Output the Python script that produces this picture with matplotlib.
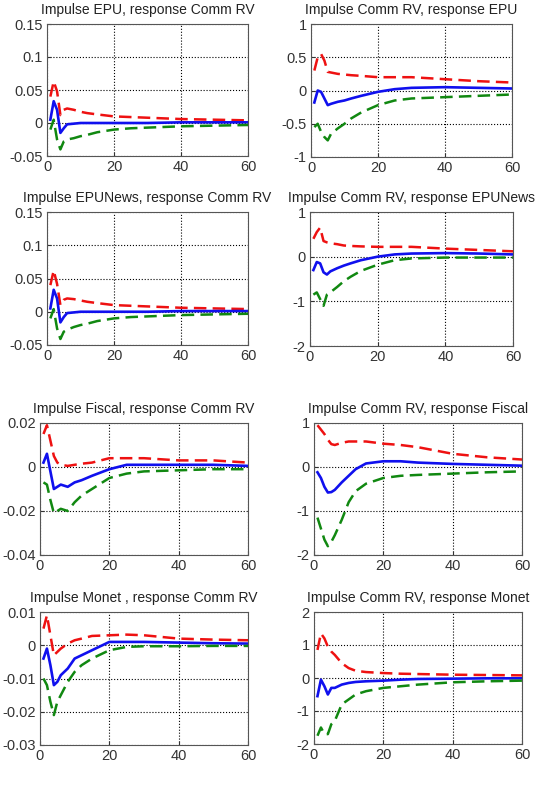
import numpy as np
import matplotlib
matplotlib.use('Agg')
import matplotlib.pyplot as plt
from matplotlib.ticker import FuncFormatter

plt.rcParams['font.family'] = ['Liberation Sans', 'DejaVu Sans']
plt.rcParams['axes.unicode_minus'] = False

h = [1, 2, 3, 4, 5, 6, 8, 10, 12, 15, 20, 25, 30, 40, 50, 60]

titles = ['Impulse EPU, response Comm RV', 'Impulse Comm RV, response EPU',
          'Impulse EPUNews, response Comm RV', 'Impulse Comm RV, response EPUNews',
          'Impulse Fiscal, response Comm RV', 'Impulse Comm RV, response Fiscal',
          'Impulse Monet , response Comm RV', 'Impulse Comm RV, response Monet']

# upper band (red), point estimate (blue), lower band (green)
up1 = [0.040, 0.063, 0.048, 0.012, 0.020, 0.022, 0.020, 0.017, 0.015, 0.013, 0.010, 0.009, 0.008, 0.006, 0.005, 0.004]
md1 = [0.005, 0.033, 0.020, -0.015, -0.008, -0.002, -0.001, 0.000, 0.000, 0.000, 0.000, 0.000, 0.000, 0.001, 0.001, 0.001]
lo1 = [-0.010, 0.005, -0.025, -0.040, -0.028, -0.025, -0.023, -0.020, -0.018, -0.014, -0.010, -0.008, -0.007, -0.005, -0.004, -0.003]

up2 = [0.30, 0.50, 0.55, 0.45, 0.28, 0.27, 0.25, 0.24, 0.23, 0.22, 0.20, 0.20, 0.20, 0.17, 0.14, 0.12]
md2 = [-0.18, 0.00, -0.02, -0.12, -0.22, -0.20, -0.17, -0.15, -0.12, -0.08, -0.02, 0.02, 0.04, 0.05, 0.04, 0.03]
lo2 = [-0.55, -0.50, -0.62, -0.70, -0.75, -0.65, -0.57, -0.50, -0.42, -0.33, -0.22, -0.15, -0.12, -0.10, -0.08, -0.06]

up3 = [0.040, 0.062, 0.042, 0.010, 0.018, 0.020, 0.019, 0.017, 0.015, 0.013, 0.010, 0.009, 0.008, 0.006, 0.005, 0.004]
md3 = [0.005, 0.033, 0.020, -0.016, -0.008, -0.002, -0.001, 0.000, 0.000, 0.000, 0.000, 0.000, 0.000, 0.001, 0.001, 0.001]
lo3 = [-0.010, 0.004, -0.025, -0.041, -0.030, -0.027, -0.023, -0.020, -0.018, -0.014, -0.010, -0.008, -0.007, -0.005, -0.004, -0.003]

up4 = [0.40, 0.55, 0.65, 0.35, 0.32, 0.30, 0.28, 0.25, 0.24, 0.23, 0.22, 0.22, 0.22, 0.18, 0.15, 0.12]
md4 = [-0.30, -0.12, -0.15, -0.35, -0.40, -0.33, -0.26, -0.20, -0.15, -0.08, 0.00, 0.05, 0.07, 0.08, 0.07, 0.05]
lo4 = [-0.85, -0.80, -0.95, -1.10, -0.85, -0.80, -0.68, -0.55, -0.45, -0.32, -0.18, -0.08, -0.04, -0.02, -0.02, -0.02]

up5 = [0.015, 0.019, 0.012, 0.005, 0.002, 0.001, 0.0005, 0.001, 0.0015, 0.002, 0.004, 0.004, 0.004, 0.003, 0.003, 0.002]
md5 = [0.002, 0.006, -0.002, -0.010, -0.009, -0.008, -0.009, -0.007, -0.006, -0.004, -0.001, 0.001, 0.001, 0.001, 0.001, 0.0005]
lo5 = [-0.007, -0.008, -0.015, -0.021, -0.020, -0.019, -0.020, -0.016, -0.013, -0.010, -0.005, -0.003, -0.002, -0.0015, -0.001, -0.001]

up6 = [0.95, 0.85, 0.75, 0.62, 0.52, 0.50, 0.55, 0.58, 0.58, 0.58, 0.53, 0.50, 0.45, 0.30, 0.22, 0.17]
md6 = [-0.12, -0.25, -0.45, -0.58, -0.57, -0.52, -0.35, -0.20, -0.05, 0.08, 0.13, 0.13, 0.10, 0.07, 0.05, 0.03]
lo6 = [-1.15, -1.40, -1.65, -1.80, -1.70, -1.55, -1.20, -0.80, -0.55, -0.38, -0.25, -0.20, -0.18, -0.15, -0.12, -0.10]

up7 = [0.005, 0.009, 0.003, -0.003, -0.002, -0.001, 0.0005, 0.0015, 0.002, 0.0028, 0.003, 0.0032, 0.003, 0.002, 0.0017, 0.0015]
md7 = [-0.004, -0.001, -0.006, -0.012, -0.011, -0.009, -0.007, -0.004, -0.003, -0.0015, 0.001, 0.001, 0.001, 0.0008, 0.0006, 0.0005]
lo7 = [-0.010, -0.012, -0.017, -0.021, -0.017, -0.015, -0.011, -0.008, -0.006, -0.004, -0.0015, -0.0005, -0.0003, -0.0003, -0.0002, -0.0002]

up8 = [0.85, 1.35, 1.20, 0.95, 0.80, 0.70, 0.45, 0.30, 0.22, 0.18, 0.15, 0.13, 0.12, 0.10, 0.09, 0.08]
md8 = [-0.55, -0.05, -0.25, -0.50, -0.30, -0.30, -0.20, -0.15, -0.12, -0.10, -0.08, -0.05, -0.03, -0.02, -0.01, -0.01]
lo8 = [-1.75, -1.50, -1.70, -1.70, -1.40, -1.30, -0.80, -0.65, -0.50, -0.40, -0.30, -0.25, -0.20, -0.13, -0.10, -0.08]

uppers = [up1, up2, up3, up4, up5, up6, up7, up8]
mids = [md1, md2, md3, md4, md5, md6, md7, md8]
lowers = [lo1, lo2, lo3, lo4, lo5, lo6, lo7, lo8]

ylims = [(-0.05, 0.15), (-1, 1), (-0.05, 0.15), (-2, 1),
         (-0.04, 0.02), (-2, 1), (-0.03, 0.01), (-2, 2)]
ysteps = [0.05, 0.5, 0.05, 1, 0.02, 1, 0.01, 1]

# axes boxes in pixels: left, top, right, bottom
boxes = [(47, 24, 248, 156), (311, 24, 512, 157),
         (47, 212, 248, 345), (310, 212, 513, 346),
         (40, 423, 248, 555), (314, 423, 522, 555),
         (40, 612, 248, 745), (314, 612, 522, 744)]

W, H = 538, 788
fig = plt.figure(figsize=(W / 100, H / 100), dpi=100)

for i in range(8):
    l, t, r, b = boxes[i]
    ax = fig.add_axes([l / W, 1 - b / H, (r - l) / W, (b - t) / H])
    ax.plot(h, uppers[i], color='#ee1111', lw=1.8, linestyle='--', dashes=(5, 2.5))
    ax.plot(h, mids[i], color='#1010ee', lw=1.9)
    ax.plot(h, lowers[i], color='#118811', lw=1.8, linestyle='--', dashes=(5, 2.5))
    ax.set_xlim(0, 60)
    ax.set_ylim(*ylims[i])
    ax.set_xticks([0, 20, 40, 60])
    ax.set_yticks(np.arange(ylims[i][0], ylims[i][1] + ysteps[i] / 2, ysteps[i]))
    ax.yaxis.set_major_formatter(FuncFormatter(lambda v, p: '%g' % round(v, 6)))
    ax.grid(True, color='black', linestyle=':', linewidth=0.8)
    ax.tick_params(direction='in', length=3, labelsize=10.5, pad=3, colors='#333333')
    for s in ax.spines.values():
        s.set_color('#555555')
        s.set_linewidth(0.8)
    ax.set_title(titles[i], fontsize=10, pad=7, color='#222222')

fig.savefig('out.png', dpi=100)
